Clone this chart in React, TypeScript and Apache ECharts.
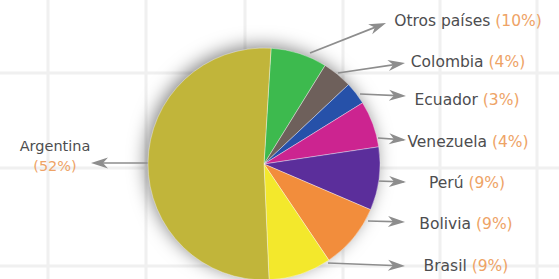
import React, { useEffect, useRef } from "react";
import * as echarts from "echarts";

// Categories (clockwise from 12 o'clock)
const countries = ["Otros países", "Colombia", "Ecuador", "Venezuela", "Perú", "Bolivia", "Brasil", "Argentina"];
// Percentages printed in the labels
const labelPercents = [10, 4, 3, 4, 9, 9, 9, 52];
// Slice sizes as drawn in the picture (degrees of the circle)
const sliceDegrees = [28.3, 15, 11.4, 23.3, 31.7, 32.8, 31.5, 186];

const sliceColors = ["#3dba4e", "#6e605b", "#2651a9", "#cc2490", "#5b2e9b", "#f28d3c", "#f3e82c", "#c1b53a"];

// Layout (label centres and arrow endpoints)
const labelCenters: [number, number][] = [
  [468, 21], [468, 62], [467, 100], [468, 142], [467, 183], [466, 224], [466, 266], [55, 156],
];
const arrowLines: [number, number, number, number][] = [
  [310, 53, 386, 23],
  [338, 73, 405, 63],
  [360, 94, 406, 96],
  [378, 138, 406, 140],
  [377, 181, 406, 182],
  [368, 221, 405, 222],
  [328, 263, 405, 266],
  [150, 163, 91, 163],
];
const gridX = [48, 146, 245, 343, 440, 537];
const gridY = [73, 168, 266];

const ARROW = "#8d8d8d";

function arrowHead(x1: number, y1: number, x2: number, y2: number) {
  const dx = x2 - x1, dy = y2 - y1;
  const len = Math.sqrt(dx * dx + dy * dy);
  const ux = dx / len, uy = dy / len;
  const px = -uy, py = ux;
  const L = 17, W = 5.5, N = 12;
  return [
    [x2, y2],
    [x2 - ux * L + px * W, y2 - uy * L + py * W],
    [x2 - ux * N, y2 - uy * N],
    [x2 - ux * L - px * W, y2 - uy * L - py * W],
  ];
}

export default function App() {
  const ref = useRef<HTMLDivElement>(null);
  useEffect(() => {
    if (!ref.current) return;
    const chart = echarts.init(ref.current, undefined, { renderer: "svg" });
    const font = "'DejaVu Sans', sans-serif";
    const graphics: any[] = [];
    gridX.forEach((x) =>
      graphics.push({ type: "line", z: -10, silent: true, shape: { x1: x, y1: 0, x2: x, y2: 279 }, style: { stroke: "#f0f0f0", lineWidth: 3 } })
    );
    gridY.forEach((y) =>
      graphics.push({ type: "line", z: -10, silent: true, shape: { x1: 0, y1: y, x2: 559, y2: y }, style: { stroke: "#f0f0f0", lineWidth: 3 } })
    );
    graphics.push({
      type: "circle",
      z: -5,
      silent: true,
      shape: { cx: 264, cy: 164, r: 115 },
      style: { fill: "#ffffff", shadowBlur: 18, shadowColor: "rgba(0,0,0,0.5)", shadowOffsetX: -3, shadowOffsetY: -3 },
    });
    arrowLines.forEach(([x1, y1, x2, y2]) => {
      graphics.push({ type: "line", silent: true, shape: { x1, y1, x2: x2 - (x2 - x1) * 0.08, y2: y2 - (y2 - y1) * 0.08 }, style: { stroke: ARROW, lineWidth: 1.7 } });
      graphics.push({ type: "polygon", silent: true, shape: { points: arrowHead(x1, y1, x2, y2) }, style: { fill: ARROW } });
    });
    countries.forEach((name, i) => {
      const [x, y] = labelCenters[i];
      const isLeft = i === countries.length - 1;
      graphics.push({
        type: "text",
        x,
        y,
        silent: true,
        style: {
          text: isLeft
            ? `{n|${name}}\n{p|(${labelPercents[i]}%)}`
            : `{n|${name}} {p|(${labelPercents[i]}%)}`,
          align: "center",
          verticalAlign: "middle",
          fontFamily: font,
          fontSize: isLeft ? 14.5 : 15.5,
          rich: {
            n: { fill: "#4d4d4f", fontFamily: font, fontSize: isLeft ? 14.5 : 15.5, lineHeight: 20 },
            p: { fill: "#eea366", fontFamily: font, fontSize: isLeft ? 14.5 : 15.5, lineHeight: 20 },
          },
        },
      });
    });

    chart.setOption({
      animation: false,
      backgroundColor: "#ffffff",
      graphic: graphics,
      series: [
        {
          type: "pie",
          z: 2,
          center: [264, 164],
          radius: 116,
          startAngle: 86.5,
          clockwise: true,
          silent: true,
          label: { show: false },
          labelLine: { show: false },
          itemStyle: { borderColor: "rgba(255,255,255,0.45)", borderWidth: 0.8 },
          data: countries.map((name, i) => ({
            name,
            value: sliceDegrees[i],
            itemStyle: { color: sliceColors[i] },
          })),
        },
      ],
    });
    return () => chart.dispose();
  }, []);
  return <div ref={ref} style={{ position: "fixed", left: 0, top: 0, width: 559, height: 279 }} />;
}
